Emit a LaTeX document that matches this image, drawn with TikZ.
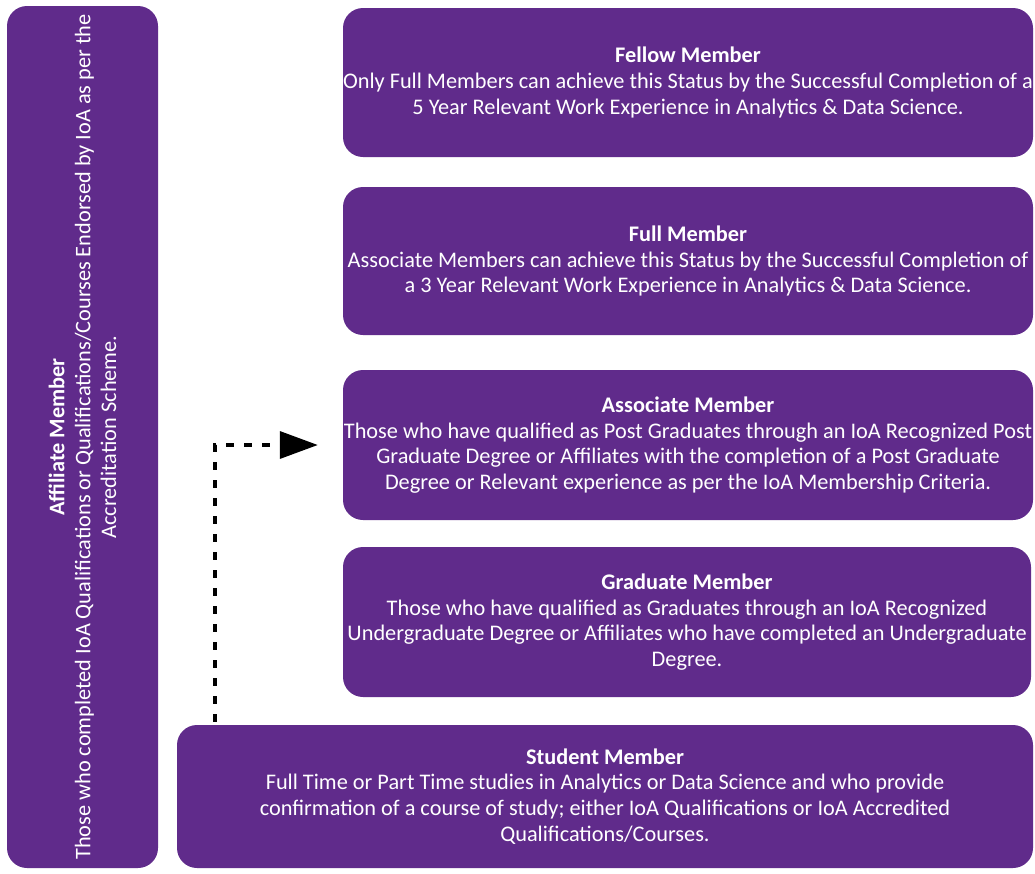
\documentclass[tikz,border=0pt]{standalone}
\usepackage{fontspec}
\setmainfont{Carlito}
\usetikzlibrary{arrows.meta}
\definecolor{ioa}{RGB}{96,43,139}
\tikzset{
  box/.style={fill=ioa, rounded corners=20pt, text=white, align=center, inner sep=0pt,
    font=\fontsize{22.3}{25.8}\selectfont},
  conn/.style={line width=3.5pt, dash pattern=on 8pt off 10pt, black,
    -{Triangle[length=38pt,width=27pt]}}
}
\begin{document}
\begin{tikzpicture}[x=1pt,y=-1pt]
\useasboundingbox (0,0) rectangle (1035,873);
\clip (0,0) rectangle (1035,873);

\node[box, rotate=90, minimum width=862pt, minimum height=151pt] (aff) at (82.5,437)
  {\textbf{Affiliate Member}\\Those who completed IoA Qualifications or Qualifications/Courses Endorsed by IoA as per the\\Accreditation Scheme.};

\node[box, minimum width=690pt, minimum height=149pt] (fel) at (688,82.5)
  {\textbf{Fellow Member}\\Only Full Members can achieve this Status by the Successful Completion of a\\5 Year Relevant Work Experience in Analytics \& Data Science.};

\node[box, minimum width=690pt, minimum height=148pt] (ful) at (688,261)
  {\textbf{Full Member}\\Associate Members can achieve this Status by the Successful Completion of\\a 3 Year Relevant Work Experience in Analytics \& Data Science.};

\node[box, minimum width=690pt, minimum height=150pt] (asc) at (688,445)
  {\textbf{Associate Member}\\Those who have qualified as Post Graduates through an IoA Recognized Post\\Graduate Degree or Affiliates with the completion of a Post Graduate\\Degree or Relevant experience as per the IoA Membership Criteria.};

\node[box, minimum width=688pt, minimum height=150pt] (gra) at (687,622)
  {\textbf{Graduate Member}\\Those who have qualified as Graduates through an IoA Recognized\\Undergraduate Degree or Affiliates who have completed an Undergraduate\\Degree.};

\node[box, minimum width=856pt, minimum height=143pt] (stu) at (605,796.5)
  {\textbf{Student Member}\\Full Time or Part Time studies in Analytics or Data Science and who provide\\confirmation of a course of study; either IoA Qualifications or IoA Accredited\\Qualifications/Courses.};

\coordinate (s) at ([xshift=38pt]stu.north west);
\draw[conn, shorten <=3pt, shorten >=25pt] (s) |- (asc.west);
\end{tikzpicture}
\end{document}
